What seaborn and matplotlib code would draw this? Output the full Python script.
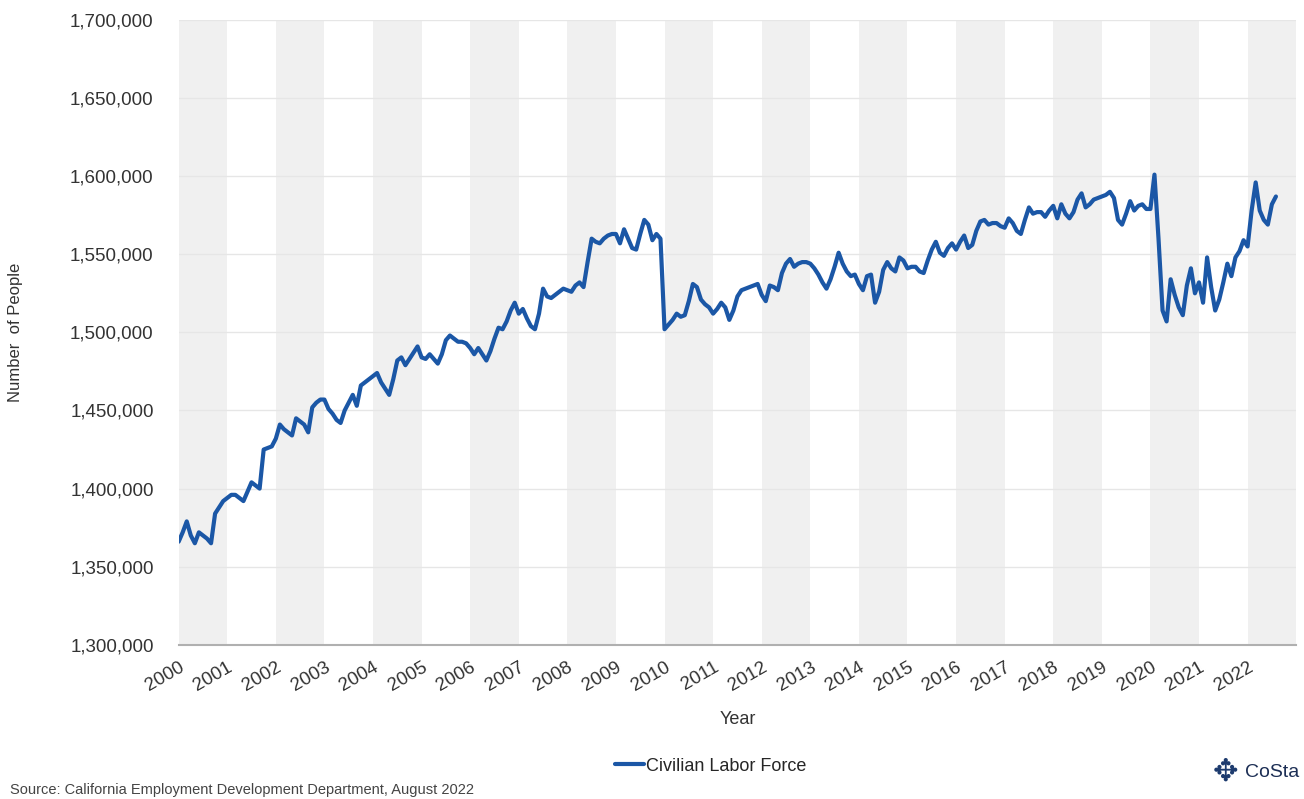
import numpy as np
import pandas as pd
import seaborn as sns
import matplotlib.pyplot as plt

# civilian labor force, monthly, thousands of people (Jan 2000 - Aug 2022)
labor_force = [
    1366, 1372, 1379, 1370, 1365, 1372, 1370, 1368, 1365, 1384, 1388, 1392,  # 2000
    1394, 1396, 1396, 1394, 1392, 1398, 1404, 1402, 1400, 1425, 1426, 1427,  # 2001
    1432, 1441, 1438, 1436, 1434, 1445, 1443, 1441, 1436, 1452, 1455, 1457,  # 2002
    1457, 1451, 1448, 1444, 1442, 1450, 1455, 1460, 1453, 1466, 1468, 1470,  # 2003
    1472, 1474, 1468, 1464, 1460, 1470, 1482, 1484, 1479, 1483, 1487, 1491,  # 2004
    1484, 1483, 1486, 1483, 1480, 1486, 1495, 1498, 1496, 1494, 1494, 1493,  # 2005
    1490, 1486, 1490, 1486, 1482, 1488, 1496, 1503, 1502, 1507, 1514, 1519,  # 2006
    1512, 1515, 1509, 1504, 1502, 1512, 1528, 1523, 1522, 1524, 1526, 1528,  # 2007
    1527, 1526, 1530, 1532, 1529, 1545, 1560, 1558, 1557, 1560, 1562, 1563,  # 2008
    1563, 1557, 1566, 1560, 1554, 1553, 1563, 1572, 1569, 1559, 1563, 1560,  # 2009
    1502, 1505, 1508, 1512, 1510, 1511, 1520, 1531, 1529, 1521, 1518, 1516,  # 2010
    1512, 1515, 1519, 1516, 1508, 1514, 1523, 1527, 1528, 1529, 1530, 1531,  # 2011
    1524, 1520, 1530, 1529, 1527, 1538, 1544, 1547, 1542, 1544, 1545, 1545,  # 2012
    1544, 1541, 1537, 1532, 1528, 1534, 1542, 1551, 1544, 1539, 1536, 1537,  # 2013
    1531, 1527, 1536, 1537, 1519, 1526, 1540, 1545, 1541, 1539, 1548, 1546,  # 2014
    1541, 1542, 1542, 1539, 1538, 1546, 1553, 1558, 1551, 1549, 1554, 1557,  # 2015
    1553, 1558, 1562, 1554, 1556, 1565, 1571, 1572, 1569, 1570, 1570, 1568,  # 2016
    1567, 1573, 1570, 1565, 1563, 1572, 1580, 1576, 1577, 1577, 1574, 1578,  # 2017
    1581, 1573, 1582, 1576, 1573, 1577, 1585, 1589, 1580, 1582, 1585, 1586,  # 2018
    1587, 1588, 1590, 1586, 1572, 1569, 1576, 1584, 1578, 1581, 1582, 1579,  # 2019
    1579, 1601, 1560, 1514, 1507, 1534, 1524, 1516, 1511, 1530, 1541, 1525,  # 2020
    1532, 1519, 1548, 1529, 1514, 1521, 1532, 1544, 1536, 1548, 1552, 1559,  # 2021
    1555, 1578, 1596, 1578, 1572, 1569, 1582, 1587,                          # 2022
]
years = list(range(2000, 2023))
y_ticks = list(range(1300000, 1700001, 50000))

df = pd.DataFrame({'people': np.array(labor_force) * 1000})
df['year'] = 2000 + np.arange(len(df)) / 12

sns.set_style('white')
plt.rcParams['font.family'] = ['Liberation Sans', 'DejaVu Sans']

fig = plt.figure(figsize=(13.04, 7.99), dpi=100)
ax = fig.add_axes([0.137, 0.193, 0.857, 0.782])

# alternating year bands
for yr in years:
    if (yr - 2000) % 2 == 0:
        ax.axvspan(yr, yr + 1, color='#f0f0f0', lw=0, zorder=0)
for v in y_ticks:
    ax.axhline(v, color='#e6e6e6', lw=1, zorder=1)

sns.lineplot(data=df, x='year', y='people', ax=ax, color='#1b57a6', lw=3,
             label='Civilian Labor Force', legend=False, zorder=3)

ax.set_xlim(2000, 2023)
ax.set_ylim(1300000, 1700000)
ax.set_yticks(y_ticks)
ax.set_yticklabels(['{:,}'.format(v) for v in y_ticks], fontsize=13.5, color='#333333')
ax.set_xticks(years)
ax.set_xticklabels([str(y) for y in years], rotation=30, ha='right', rotation_mode='anchor',
                   fontsize=13.5, color='#333333')
ax.tick_params(axis='x', direction='inout', length=8, color='#aaaaaa', pad=6)
ax.tick_params(axis='y', length=0, pad=18)
for s in ['top', 'right', 'left']:
    ax.spines[s].set_visible(False)
ax.spines['bottom'].set_color('#b0b0b0')
ax.spines['bottom'].set_linewidth(1.5)

ax.set_xlabel('Year', fontsize=13, color='#333333', labelpad=12)
ax.set_ylabel('Number  of People', fontsize=12, color='#333333', labelpad=34)

handles, labels = ax.get_legend_handles_labels()
fig.legend(handles, labels, loc='center', bbox_to_anchor=(0.545, 0.041), frameon=False,
           fontsize=13, handlelength=1.6, handletextpad=0.1)

fig.text(0.008, 0.006, 'Source: California Employment Development Department, August 2022',
         fontsize=10.5, color='#444444')
fig.text(0.93, 0.033, '\u2725', fontsize=22, color='#1d3b6e', va='center')
fig.text(0.955, 0.033, 'CoSta', fontsize=14, color='#1d2f55', va='center')

fig.savefig('out.png', dpi=100)
